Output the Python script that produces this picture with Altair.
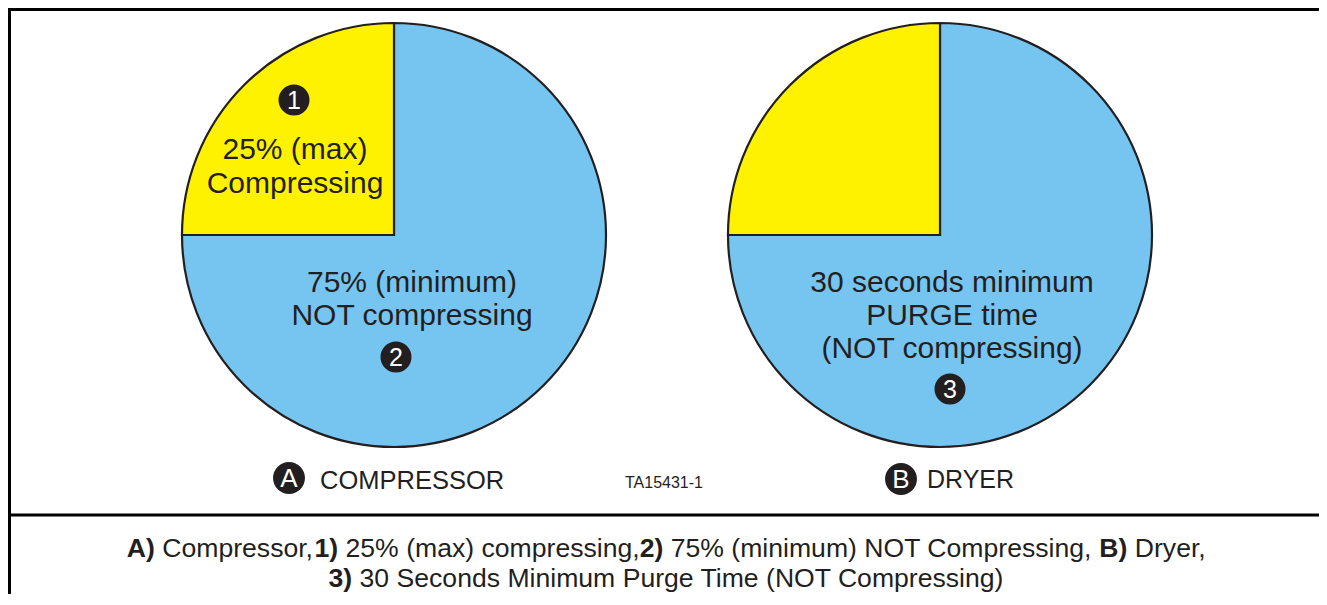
import math
import altair as alt
import pandas as pd

# ---- data ----
pie_names = ["COMPRESSOR", "DRYER"]
pie_letters = ["A", "B"]
segment_names = ["NOT compressing", "Compressing"]
segment_values = [[75, 25], [75, 25]]          # percent of cycle, per pie
segment_colors = ["#76C5F0", "#FFF200"]

label_lines_1 = ["25% (max)", "Compressing"]
label_lines_2 = ["75% (minimum)", "NOT compressing"]
label_lines_3 = ["30 seconds minimum", "PURGE time", "(NOT compressing)"]
marker_numbers = ["1", "2", "3"]
figure_code = "TA15431-1"

caption_line1 = [("A)", "bold"), (" Compressor,", "normal"), ("1)", "bold"),
                 (" 25% (max) compressing,", "normal"), ("2)", "bold"),
                 (" 75% (minimum) NOT Compressing, ", "normal"), ("B)", "bold"),
                 (" Dryer,", "normal")]
caption_line2 = [("3)", "bold"), (" 30 Seconds Minimum Purge Time (NOT Compressing)", "normal")]

# ---- layout ----
OFF = 8
W, H = 1311, 586
FONT = "Liberation Sans"
INK = "#231F20"
R = 212
pie_centers = [(394, 235), (940, 235)]
CAP_SIZE = 26.6
CAP_CENTER = 667

# Arial / Liberation Sans advance widths (1/1000 em) for caption layout
REG = {" ": 278, "(": 333, ")": 333, "%": 889, ",": 278, "A": 667, "B": 667, "C": 722,
       "D": 722, "M": 833, "N": 722, "O": 778, "P": 667, "S": 667, "T": 611, "a": 556,
       "c": 500, "d": 556, "e": 556, "g": 556, "i": 222, "m": 833, "n": 556, "o": 556,
       "p": 556, "r": 333, "s": 500, "u": 556, "x": 500, "y": 500}
BOLD = {"A": 722, "B": 722, ")": 333, " ": 278}
for d in "0123456789":
    REG[d] = 556
    BOLD[d] = 556

def seg_width(s, w):
    tbl = BOLD if w == "bold" else REG
    return sum(tbl.get(ch, 556) for ch in s) / 1000 * CAP_SIZE

rows = []
for p, name in enumerate(pie_names):
    start = 0
    for s, seg in enumerate(segment_names):
        v = segment_values[p][s]
        rows.append({"pie": name, "segment": seg, "start": start, "end": start + v,
                     "color": segment_colors[s]})
        start += v
df = pd.DataFrame(rows)

theta_scale = alt.Scale(domain=[0, 100], range=[0, 2 * math.pi])
layers = []

for p, name in enumerate(pie_names):
    cx, cy = pie_centers[p]
    arc = alt.Chart(df[df.pie == name]).mark_arc(
        radius=R, stroke=INK, strokeWidth=2.2
    ).encode(
        theta=alt.Theta("start:Q", scale=theta_scale),
        theta2="end:Q",
        color=alt.Color("color:N", scale=None),
        x=alt.value(cx - OFF),
        y=alt.value(cy - OFF),
    )
    layers.append(arc)

def text(s, x, y, size=30, align="center", weight="normal", color=INK, baseline="alphabetic"):
    return alt.Chart(pd.DataFrame({"t": [s]})).mark_text(
        font=FONT, fontSize=size, align=align, baseline=baseline,
        fontWeight=weight, color=color
    ).encode(text="t:N", x=alt.value(x - OFF), y=alt.value(y - OFF))

def badge(s, x, y, r=17.5, size=25):
    c = alt.Chart(pd.DataFrame({"t": [s]})).mark_circle(
        size=math.pi * r * r, color=INK, opacity=1
    ).encode(x=alt.value(x - OFF), y=alt.value(y - OFF))
    t = text(s, x, y + 1, size=size, color="white", baseline="middle")
    return [c, t]

# in-pie labels
for i, ln in enumerate(label_lines_1):
    layers.append(text(ln, 295, 159 + 34 * i))
for i, ln in enumerate(label_lines_2):
    layers.append(text(ln, 412, 292 + 33 * i))
for i, ln in enumerate(label_lines_3):
    layers.append(text(ln, 952, 292 + 33 * i))

layers += badge(marker_numbers[0], 294, 100)
layers += badge(marker_numbers[1], 396, 357)
layers += badge(marker_numbers[2], 950, 389)

# pie titles
layers += badge(pie_letters[0], 289, 478, r=18, size=26)
layers.append(text(pie_names[0], 320, 489, size=25.5, align="left"))
layers += badge(pie_letters[1], 901, 479, r=18, size=26)
layers.append(text(pie_names[1], 927, 488, size=25, align="left"))
layers.append(text(figure_code, 625, 488, size=16, align="left"))

# caption: rich text laid out segment by segment, each line centred
for line, base in ((caption_line1, 557), (caption_line2, 587)):
    total = sum(seg_width(s, w) for s, w in line)
    x = CAP_CENTER - total / 2
    for s, w in line:
        core = s.strip()
        lead = len(s) - len(s.lstrip())
        trail = len(s) - len(s.rstrip())
        x += seg_width(" " * lead, w)
        layers.append(text(core, x, base, size=CAP_SIZE, align="left", weight=w))
        x += seg_width(core, w) + seg_width(" " * trail, w)

# frame lines
def rule(x, x2, y, y2):
    return alt.Chart(pd.DataFrame({"a": [0]})).mark_rule(
        color="black", strokeWidth=3
    ).encode(x=alt.value(x), x2=alt.value(x2), y=alt.value(y), y2=alt.value(y2))

layers.append(rule(0, W, 1.5, 1.5))
layers.append(rule(1.5, 1.5, 0, H))
layers.append(rule(0, W, 515 - OFF, 515 - OFF))

chart = alt.layer(*layers).properties(
    width=W, height=H, padding=0,
    autosize=alt.AutoSizeParams(type="none"),
    background="white",
).configure_view(stroke=None)

chart.save("out.html", embed_options={"renderer": "svg", "actions": False})
